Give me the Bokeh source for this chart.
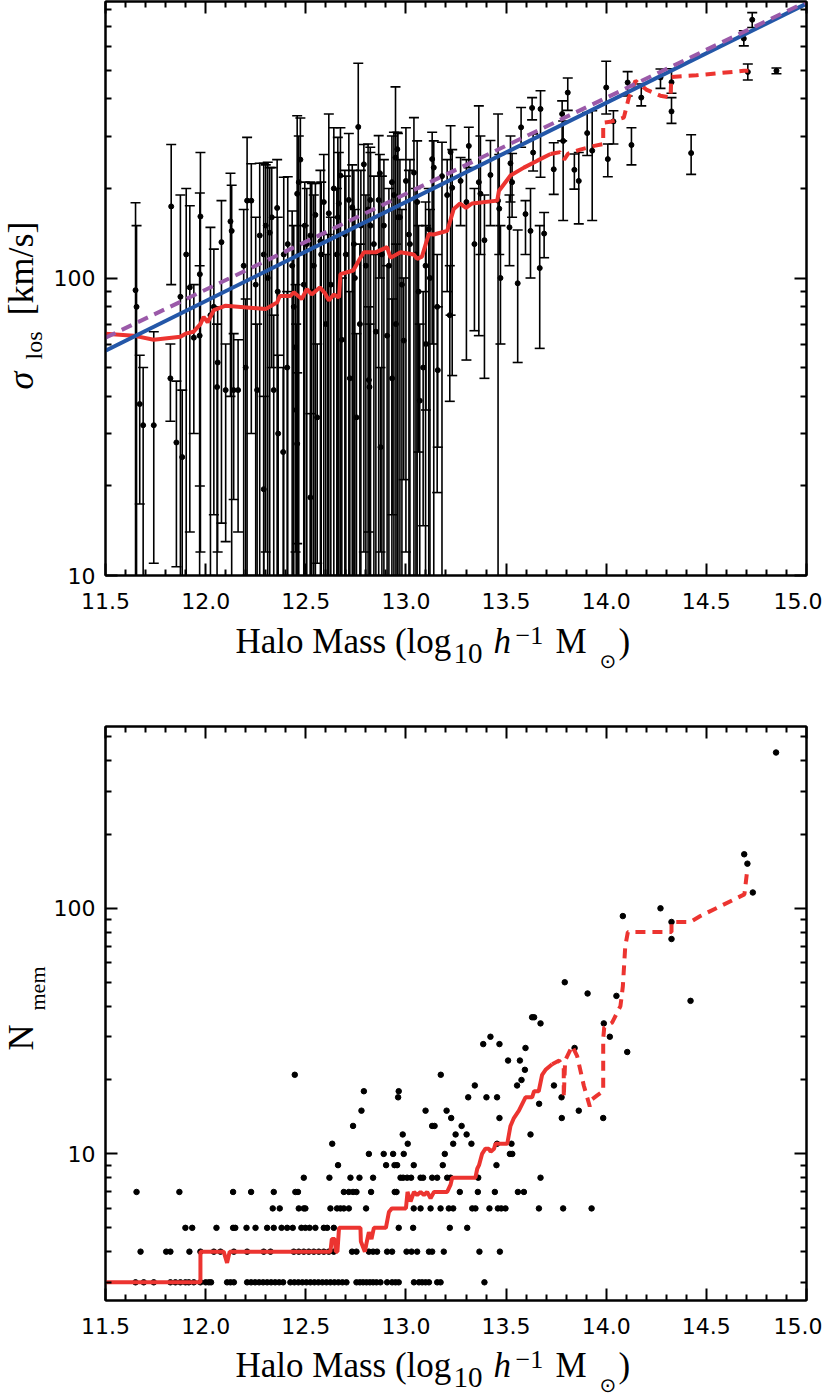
import math
from bokeh.plotting import figure
from bokeh.models import (FixedTicker, LinearAxis, LogAxis, Range1d,
                          PrintfTickFormatter, CustomJSTickFormatter, Label)
from bokeh.layouts import column, row
from bokeh.embed import file_html
from bokeh.resources import INLINE

# ---------------- axes / ticks ----------------
X_RANGE = (11.5, 15.0)
X_MAJOR = [11.5, 12.0, 12.5, 13.0, 13.5, 14.0, 14.5, 15.0]
X_MINOR = [11.6, 11.7, 11.8, 11.9, 12.1, 12.2, 12.3, 12.4, 12.6, 12.7, 12.8, 12.9,
           13.1, 13.2, 13.3, 13.4, 13.6, 13.7, 13.8, 13.9, 14.1, 14.2, 14.3, 14.4,
           14.6, 14.7, 14.8, 14.9]
Y_MAJOR = [1, 10, 100, 1000]
Y_MINOR = [2, 3, 4, 5, 6, 7, 8, 9, 20, 30, 40, 50, 60, 70, 80, 90,
           200, 300, 400, 500, 600, 700, 800, 900]
SIG_RANGE = (10, 850)
NMEM_RANGE = (2.53, 550)

# ---------------- top panel: velocity dispersion ----------------
sig_mass = [11.650, 11.655, 11.671, 11.688, 11.741, 11.824, 11.828, 11.854, 11.874, 11.883,
            11.903, 11.921, 11.941, 11.970, 11.974, 11.971, 12.024, 12.041, 12.060, 12.057,
            12.079, 12.100, 12.124, 12.130, 12.140, 12.162, 12.200, 12.207, 12.228, 12.257,
            12.270, 12.290, 12.300, 12.320, 12.330, 12.340, 12.357, 12.362, 12.387, 12.390,
            12.407, 12.432, 12.449, 12.452, 12.457, 12.457, 12.465, 12.473, 12.490, 12.505,
            12.523, 12.523, 12.540, 12.548, 12.557, 12.573, 12.590, 12.600, 12.615, 12.625,
            12.640, 12.655, 12.665, 12.673, 12.680, 12.695, 12.715, 12.720, 12.732, 12.745,
            12.753, 12.762, 12.775, 12.790, 12.800, 12.815, 12.818, 12.822, 12.840, 12.850,
            12.864, 12.870, 12.873, 12.890, 12.906, 12.915, 12.930, 12.931, 12.948, 12.950,
            12.957, 12.970, 12.989, 13.000, 13.015, 13.040, 13.050, 13.063, 13.069, 13.086,
            13.098, 13.100, 13.114, 13.131, 13.139, 13.156, 13.159, 13.180, 13.206, 13.219,
            13.223, 13.231, 13.273, 13.302, 13.314, 13.342, 13.364, 13.372, 13.392, 13.422,
            13.460, 13.466, 13.472, 13.517, 13.522, 13.530, 13.558, 13.575, 13.597, 13.622,
            13.630, 13.635, 13.668, 13.672, 13.690, 13.738, 13.780, 13.785, 13.808, 13.841,
            13.863, 13.905, 13.930, 14.000, 14.008, 14.036, 14.107, 14.126, 14.175, 14.271,
            14.326, 14.326, 14.424, 14.687, 14.707, 14.729, 14.850,
            12.290, 12.310, 12.410, 12.495, 12.530, 12.577, 12.660, 12.700, 12.740, 12.811,
            12.823, 12.880, 12.940, 12.960, 13.020, 13.056, 13.120, 12.360, 12.440, 12.610,
            12.770, 12.980, 12.190, 12.250]
sig_val = [91, 80, 37.7, 32, 32, 46, 174, 28, 86.5, 25,
           120, 93, 63, 64, 161, 103, 75, 80, 52, 43,
           132, 42, 155, 144, 42, 42, 50, 182, 182, 42,
           139, 19.5, 150, 142, 160, 42, 172, 30, 26, 120,
           50, 110, 58.5, 36, 192, 27.7, 210, 250, 95, 130,
           139, 18.3, 110, 163, 34, 133, 180, 70, 165, 95,
           200, 120, 178, 221, 62, 140, 183, 46, 173, 100,
           34, 322, 150, 241, 110, 45.4, 43, 183, 130, 66,
           183, 225, 27, 150, 64, 110, 210, 46, 254, 70,
           271, 160, 61.6, 212, 140, 226, 120, 90, 38.7, 50,
           110, 60, 146, 251, 235, 80, 49, 220, 190, 75,
           265, 201, 212, 180, 278, 130, 210, 192, 134, 222,
           182, 171, 100, 148, 243, 210, 96, 321, 164, 144,
           373, 264, 108, 370, 141, 232, 356, 289, 420, 231,
           212, 307, 268, 437, 251, 336, 454, 280, 404, 472,
           455, 363, 263, 638, 493, 738, 497,
           120, 100, 130, 150, 90, 120, 160, 120, 130, 170,
           150, 120, 190, 160, 130, 180, 100, 90, 80, 85,
           70, 95, 110, 95]
sig_hi = [179, 150, 55, 50, 66, 60, 281, 45, 190, 42,
          200, 175, 95, 110, 264, 193, 148, 125, 80, 70,
          182, 60, 225, 205, 65, 62, 85, 297, 242, 70,
          243, 40, 240, 235, 235, 75, 250, 55, 50, 218,
          90, 168, 95, 70, 351, 48, 300, 345, 150, 200,
          210, 35, 190, 208, 60, 230, 260, 120, 356, 160,
          320, 200, 264, 320, 100, 230, 306, 90, 240, 170,
          65, 527, 230, 281, 190, 80, 70, 275, 220, 120,
          301, 260, 50, 250, 110, 200, 300, 85, 439, 130,
          309, 250, 100, 320, 230, 346, 200, 150, 70, 90,
          180, 150, 200, 309, 289, 120, 80, 286, 250, 110,
          325, 270, 254, 250, 321, 200, 379, 300, 190, 290,
          356, 260, 150, 190, 300, 262, 145, 374, 182, 200,
          404, 305, 150, 426, 166, 285, 394, 337, 470, 261,
          264, 360, 365, 535, 282, 365, 494, 320, 449, 504,
          505, 404, 303, 678, 524, 780, 508,
          243, 245, 219, 210, 208, 210, 297, 220, 230, 282,
          264, 220, 309, 306, 250, 289, 170, 160, 150, 140,
          130, 170, 170, 160]
sig_lo = [5, 6, 17.4, 8, 11, 33, 95, 10.7, 8, 7,
          9, 14, 30, 8, 12, 20, 10, 16, 12, 9,
          15, 13, 40, 8, 18, 14, 8, 10, 30, 10,
          8, 6, 12, 5, 50, 7, 9, 9, 7, 10,
          9, 7, 12, 8, 9, 12.8, 5, 120, 6, 5,
          5, 6, 7, 8, 11, 5, 6, 8, 6, 5,
          10, 5, 8, 10, 7, 5, 9, 8, 7, 5,
          9, 150, 6, 12, 5, 14, 8, 7, 5, 10,
          8, 100, 12, 5, 7, 6, 8, 16, 120, 5,
          10, 5, 21, 12, 6, 10, 5, 26, 5, 14.7,
          5, 36, 5, 60, 9, 19, 27, 8, 90, 38.5,
          75, 47, 150, 53, 235, 66.5, 64, 120, 46, 150,
          5, 120, 60, 110, 180, 160, 52, 275, 120, 100,
          340, 229, 58, 218, 117, 191, 289, 156, 366, 199,
          152, 258, 156, 356, 219, 282, 409, 240, 379, 434,
          418, 331, 223, 603, 463, 695, 486,
          5, 5, 5, 5, 5, 5, 5, 5, 5, 5,
          5, 5, 5, 5, 5, 5, 5, 5, 5, 5,
          5, 5, 5, 5]

# running median (red) in the top panel: solid part then dashed part
sig_med_mass = [11.5, 11.64, 11.741, 11.874, 11.9, 11.94, 11.974, 11.99, 12.01, 12.041,
                12.1, 12.3, 12.357, 12.37, 12.423, 12.44, 12.48, 12.505, 12.53, 12.57,
                12.595, 12.615, 12.64, 12.666, 12.673, 12.737, 12.77, 12.79, 12.848, 12.906,
                12.923, 12.973, 13.039, 13.056, 13.08, 13.114, 13.139, 13.206, 13.239, 13.27,
                13.3, 13.33, 13.456, 13.464, 13.522, 13.589, 13.656, 13.722]
sig_med_val = [65, 64, 62, 63.5, 65, 66, 70, 74, 71, 78,
               80.7, 78.7, 82.8, 87, 87, 89.5, 85, 91.8, 88, 93,
               89, 84, 88, 86, 103, 106, 116, 122, 122, 127,
               117, 122, 120, 116, 118, 140.5, 140, 144, 170.6, 178,
               172, 178, 182, 196, 221, 235, 248, 261]
sig_med_mass_d = [13.722, 13.77, 13.79, 13.81, 13.87, 13.94, 13.985, 13.985, 14.02, 14.088,
                  14.113, 14.146, 14.2, 14.27, 14.321, 14.325, 14.36, 14.45, 14.687, 14.71]
sig_med_val_d = [261, 265, 250, 262, 270, 278, 282, 333, 335, 346,
                 404, 460, 430, 410, 404, 474, 476, 480, 497, 497]

# fitted relations (blue solid, purple dashed)
fit_mass = [11.5, 15.0]
fit_blue = [57, 836]
fit_purple = [63, 848]

# ---------------- bottom panel: number of members ----------------
nmem_rows = {
    3: [11.650, 11.691, 11.741, 11.824, 11.849, 11.874, 11.899, 11.916, 11.941, 11.974,
        12.000, 12.016, 12.027, 12.107, 12.124, 12.141, 12.207, 12.227, 12.247, 12.267,
        12.287, 12.307, 12.327, 12.347, 12.367, 12.387, 12.423, 12.443, 12.463, 12.483,
        12.503, 12.523, 12.543, 12.563, 12.583, 12.603, 12.623, 12.643, 12.663, 12.683,
        12.703, 12.753, 12.770, 12.786, 12.803, 12.820, 12.836, 12.853, 12.873, 12.906,
        12.931, 12.948, 12.964, 13.040, 13.065, 13.081, 13.098, 13.115, 13.156, 13.173,
        13.392],
    4: [11.675, 11.803, 11.824, 11.919, 11.974, 12.041, 12.074, 12.141, 12.207, 12.290,
        12.324, 12.440, 12.465, 12.490, 12.515, 12.540, 12.565, 12.590, 12.615, 12.640,
        12.731, 12.753, 12.815, 12.836, 12.856, 12.906, 12.931, 13.003, 13.028, 13.056,
        13.115, 13.131, 13.189, 13.367, 13.469],
    5: [11.899, 11.933, 12.054, 12.137, 12.148, 12.204, 12.249, 12.307, 12.340, 12.379,
        12.407, 12.435, 12.478, 12.498, 12.519, 12.548, 12.590, 12.607, 12.640, 12.964,
        13.036, 13.219, 13.306],
    6: [12.335, 12.370, 12.465, 12.490, 12.498, 12.623, 12.656, 12.673, 12.690, 12.715,
        12.801, 13.039, 13.073, 13.123, 13.173, 13.214, 13.236, 13.331, 13.347, 13.417,
        13.459, 13.476, 13.497, 13.664, 13.785, 13.927],
    7: [11.655, 11.869, 12.137, 12.227, 12.340, 12.448, 12.461, 12.690, 12.715, 12.736,
        12.753, 12.826, 12.944, 12.953, 13.269, 13.359, 13.444, 13.559, 13.589],
    8: [12.490, 12.618, 12.723, 12.768, 12.836, 12.973, 12.986, 13.006, 13.026, 13.073,
        13.086, 13.131, 13.156, 13.206, 13.223, 13.361, 13.672],
    9: [12.661, 12.901, 12.943, 12.956, 13.039, 13.184, 13.452],
    10: [12.815, 12.889, 12.936, 12.989, 13.194, 13.519, 13.531],
    11: [12.632, 13.009, 13.236, 13.327, 13.455, 13.527],
    12: [12.984, 13.248, 13.303, 13.622],
    13: [12.736, 13.131, 13.143, 13.278],
    14: [13.226, 13.467, 13.778, 13.985],
    15: [12.778, 13.098, 13.203, 13.863],
    16: [13.665],
    17: [12.961, 13.311, 13.402, 13.455, 13.777],
    18: [12.790, 12.964],
    19: [13.344, 13.555, 13.739],
    20: [13.577],
    21: [12.445, 13.174],
    22: [13.594],
    24: [13.510, 13.569],
    26: [14.105],
    27: [13.597, 13.842],
    28: [13.386, 13.467],
    30: [13.422, 14.018],
    34: [13.672, 13.988],
    36: [13.630, 13.640],
    42: [14.421],
    44: [14.051],
    45: [13.907],
    50: [13.793],
    75: [14.326],
    88: [14.326],
    93: [14.083],
    100: [14.271],
    116: [14.732],
    152: [14.705],
    166: [14.689],
    431: [14.848],
}

nmem_med_mass = [11.5, 11.974, 11.974, 12.09, 12.107, 12.12, 12.623, 12.63, 12.645, 12.65,
                 12.658, 12.666, 12.773, 12.775, 12.795, 12.805, 12.815, 12.828, 12.84, 12.9,
                 12.915, 12.93, 13.0, 13.008, 13.023, 13.04, 13.056, 13.073, 13.09, 13.106,
                 13.123, 13.14, 13.206, 13.223, 13.231, 13.347, 13.356, 13.365, 13.38, 13.397,
                 13.414, 13.423, 13.44, 13.447, 13.506, 13.522, 13.539, 13.564, 13.597, 13.63,
                 13.64, 13.663, 13.68, 13.697, 13.73]
nmem_med_val = [3, 3, 4, 4, 3.6, 4, 4, 4.5, 4.5, 4,
                4, 5, 5, 4.4, 4, 4.4, 4.8, 4.5, 5, 5,
                5.8, 6, 6, 7, 6.4, 7, 6.8, 7, 6.8, 7,
                6.6, 7, 7, 7.5, 8, 8, 8.7, 9, 10, 10.5,
                10.5, 10.2, 10.5, 11, 11, 13, 14, 15, 17, 17,
                18, 18, 21, 22, 23.2]
nmem_med_mass_d = [13.73, 13.765, 13.788, 13.788, 13.795, 13.83, 13.855, 13.888, 13.918, 13.93,
                   13.955, 13.985, 13.985, 13.99, 14.03, 14.071, 14.083, 14.095, 14.108, 14.304,
                   14.326, 14.326, 14.42, 14.47, 14.58, 14.69, 14.705]
nmem_med_val_d = [23.2, 24, 22.5, 17, 24, 27.5, 25, 19, 15.6, 16.7,
                  17.3, 18, 29.4, 32.7, 34.3, 40, 48, 70, 80, 80,
                  80, 88, 88, 93, 103, 114, 145]

RED = "#ec3430"
BLUE = "#2457a8"
PURPLE = "#9b5aa9"
SERIF = "Liberation Serif"
TICKFONT = "DejaVu Sans"

FRAME_W, FRAME_H = 701, 574
YT_W = 50          # width of the strip holding the rotated y title
LEFT_B = 55        # panel border holding the y tick labels
RIGHT_B = 16
BOTTOM_B = 44      # panel border holding the x tick labels
TOTAL_W = YT_W + LEFT_B + FRAME_W + RIGHT_B


def style_axis(ax, labels=True):
    ax.axis_line_width = 2
    ax.axis_line_color = "black"
    ax.major_tick_in = 12
    ax.major_tick_out = 0
    ax.minor_tick_in = 6
    ax.minor_tick_out = 0
    ax.major_tick_line_width = 2
    ax.minor_tick_line_width = 2
    ax.major_tick_line_color = "black"
    ax.minor_tick_line_color = "black"
    ax.major_label_text_font = TICKFONT
    ax.major_label_text_font_size = "22px"
    ax.major_label_text_color = "black"
    if not labels:
        ax.formatter = CustomJSTickFormatter(code="return ''")
        ax.major_label_standoff = 0
        ax.major_label_text_font_size = "0px"


def make_panel(yrange, border_top):
    p = figure(frame_width=FRAME_W, frame_height=FRAME_H,
               x_range=Range1d(*X_RANGE), y_range=Range1d(*yrange),
               y_axis_type="log", output_backend="svg", toolbar_location=None,
               min_border_left=LEFT_B, min_border_right=RIGHT_B,
               min_border_top=border_top, min_border_bottom=BOTTOM_B,
               background_fill_color="white", border_fill_color="white",
               outline_line_color="black", outline_line_width=2)
    p.grid.visible = False
    p.xaxis.ticker = FixedTicker(ticks=X_MAJOR, minor_ticks=X_MINOR)
    p.xaxis.formatter = PrintfTickFormatter(format="%.1f")
    p.yaxis.ticker = FixedTicker(ticks=Y_MAJOR, minor_ticks=Y_MINOR)
    p.yaxis.formatter = PrintfTickFormatter(format="%d")
    for ax in p.xaxis:
        style_axis(ax)
        ax.major_label_standoff = 17
    for ax in p.yaxis:
        style_axis(ax)
        ax.major_label_standoff = 10
    top = LinearAxis(ticker=FixedTicker(ticks=X_MAJOR, minor_ticks=X_MINOR))
    style_axis(top, labels=False)
    p.add_layout(top, "above")
    right = LogAxis(ticker=FixedTicker(ticks=Y_MAJOR, minor_ticks=Y_MINOR))
    style_axis(right, labels=False)
    p.add_layout(right, "right")
    return p


def text_strip(w, h):
    s = figure(width=w, height=h, x_range=Range1d(0, w), y_range=Range1d(0, h),
               output_backend="svg", toolbar_location=None,
               x_axis_location=None, y_axis_location=None,
               min_border=0, min_border_left=0, min_border_right=0,
               min_border_top=0, min_border_bottom=0,
               outline_line_color=None, background_fill_color="white",
               border_fill_color="white")
    s.grid.visible = False
    return s


def add_text(p, x, y, text, size, font=SERIF, style="normal", angle=0.0, mid=0.3375):
    """(x, y) is the start of the text baseline, in pixels from the frame's bottom-left."""
    shift = mid * size
    if angle == 0.0:
        y = y + shift
    else:
        x = x - shift
    p.add_layout(Label(x=x, y=y, x_units="screen", y_units="screen", text=text,
                       text_font=font, text_font_size=f"{size}px", text_font_style=style,
                       text_color="black", text_align="left", text_baseline="middle",
                       angle=angle, angle_units="rad"))


def mass_title(h, below_top):
    s = text_strip(TOTAL_W, h)
    x0 = YT_W + LEFT_B
    yb = h - below_top
    add_text(s, x0 + 130, yb, "Halo Mass (log", 35)
    add_text(s, x0 + 348, yb - 10, "10", 29)
    add_text(s, x0 + 388, yb, "h", 35, style="italic")
    add_text(s, x0 + 410, yb + 9, "\u22121", 26)
    add_text(s, x0 + 450, yb, "M", 35)
    s.add_layout(Label(x=x0 + 494, y=yb - 7, x_units="screen", y_units="screen",
                       text="\u2299", text_font="DejaVu Sans", text_font_size="20px",
                       text_color="black", text_align="left", text_baseline="middle"))
    add_text(s, x0 + 513, yb, ")", 35)
    return s


half = math.pi / 2

# ---------------- top figure ----------------
p1 = make_panel(SIG_RANGE, 1)
p1.segment(x0=sig_mass, y0=sig_lo, x1=sig_mass, y1=sig_hi, line_color="black", line_width=1.6)
p1.scatter(x=sig_mass, y=sig_hi, marker="dash", size=10, line_color="black", line_width=1.6)
p1.scatter(x=sig_mass, y=sig_lo, marker="dash", size=10, line_color="black", line_width=1.6)
p1.scatter(x=sig_mass, y=sig_val, marker="circle", size=5, fill_color="black", line_color="black")
p1.line(sig_med_mass, sig_med_val, line_color=RED, line_width=4)
p1.line(sig_med_mass_d, sig_med_val_d, line_color=RED, line_width=4, line_dash="10 7")
p1.line(fit_mass, fit_blue, line_color=BLUE, line_width=4)
p1.line(fit_mass, fit_purple, line_color=PURPLE, line_width=4, line_dash="11 7")

# the y-title strip shares the panel's frame rows (row alignment), so y is from the frame bottom
h1 = 1 + FRAME_H + BOTTOM_B
yt1 = text_strip(YT_W, h1)
add_text(yt1, 33, 186, "\u03c3", 36, style="italic", angle=half)
add_text(yt1, 42, 216, "los", 24, angle=half)
add_text(yt1, 33, 260, "[km/s]", 36, angle=half)
xt1 = mass_title(726 - 11 - h1, 34)

# ---------------- bottom figure ----------------
p2 = make_panel(NMEM_RANGE, 11)
nx, ny = [], []
for n, xs in nmem_rows.items():
    nx.extend(xs)
    ny.extend([n] * len(xs))
p2.scatter(x=nx, y=ny, marker="circle", size=5.5, fill_color="black", line_color="black")
p2.line(nmem_med_mass, nmem_med_val, line_color=RED, line_width=4)
p2.line(nmem_med_mass_d, nmem_med_val_d, line_color=RED, line_width=4, line_dash="10 7")

h2 = 11 + FRAME_H + BOTTOM_B
yt2 = text_strip(YT_W, h2)
add_text(yt2, 33, 250, "N", 36, angle=half)
add_text(yt2, 44, 290, "mem", 22, angle=half)
xt2 = mass_title(52, 33)

layout = column(row(yt1, p1, spacing=0), xt1, row(yt2, p2, spacing=0), xt2, spacing=0)
open("out.html", "w").write(file_html(layout, INLINE))
